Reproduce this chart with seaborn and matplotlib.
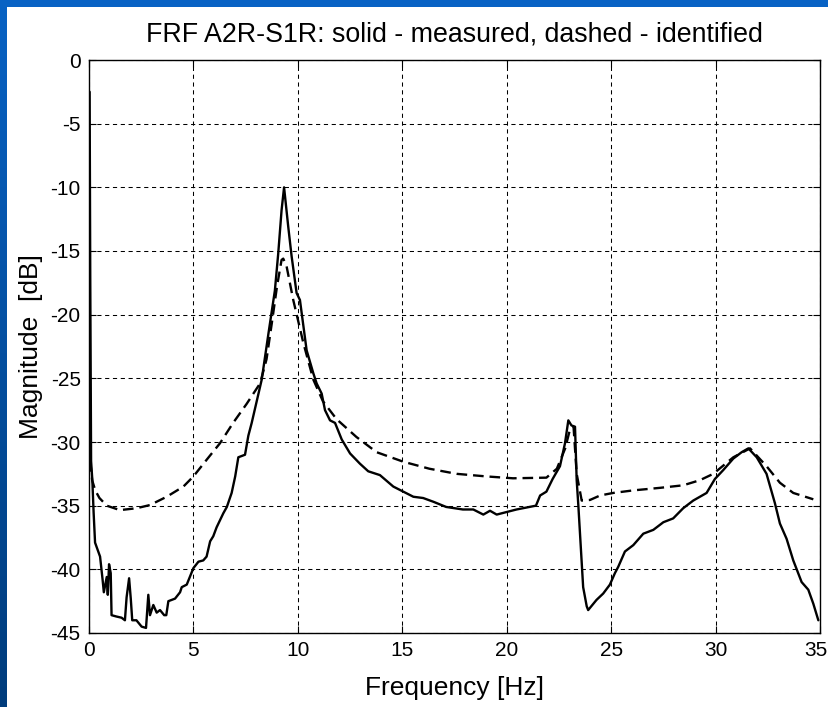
import numpy as np
import pandas as pd
import matplotlib
matplotlib.use("Agg")
import matplotlib.pyplot as plt
import matplotlib.transforms as mtransforms
import seaborn as sns

# Measured FRF magnitude (solid)
meas_freq = [0.03, 0.06, 0.10, 0.16, 0.22, 0.29, 0.40, 0.53, 0.65, 0.71, 0.85, 0.90, 0.96, 1.04,
             1.08, 1.30, 1.56, 1.72, 1.80, 1.92, 2.00, 2.07, 2.27, 2.52, 2.73, 2.84, 2.92, 3.08,
             3.24, 3.40, 3.60, 3.70, 3.80, 4.12, 4.36, 4.44, 4.68, 4.83, 5.00, 5.24, 5.47, 5.63,
             5.80, 5.95, 6.11, 6.43, 6.60, 6.83, 7.00, 7.15, 7.47, 7.63, 7.79, 8.03, 8.27, 8.59,
             8.90, 9.06, 9.22, 9.34, 9.54, 9.70, 9.94, 10.10, 10.42, 10.74, 10.90, 11.14, 11.30,
             11.54, 11.78, 12.10, 12.50, 12.97, 13.37, 13.93, 14.57, 15.05, 15.53, 16.00, 16.50,
             17.10, 17.90, 18.40, 18.88, 19.20, 19.52, 20.00, 20.47, 21.10, 21.40, 21.60, 21.90,
             22.20, 22.55, 22.79, 22.95, 23.10, 23.27, 23.35, 23.43, 23.51, 23.66, 23.83, 23.90,
             24.30, 24.62, 24.94, 25.18, 25.34, 25.66, 26.06, 26.54, 27.02, 27.50, 27.97, 28.45,
             28.93, 29.57, 29.97, 30.37, 30.85, 31.25, 31.57, 31.97, 32.44, 32.84, 33.08, 33.40,
             33.72, 34.12, 34.44, 34.68, 34.92]
meas_db = [-2.5, -17.0, -31.5, -33.0, -35.5, -37.9, -38.4, -39.0, -40.8, -41.8, -40.6, -42.0, -39.6, -40.3,
           -43.6, -43.7, -43.8, -44.0, -42.2, -40.7, -42.3, -44.0, -44.0, -44.5, -44.6, -42.0, -43.6, -42.8,
           -43.4, -43.2, -43.6, -43.6, -42.5, -42.3, -41.8, -41.4, -41.2, -40.6, -39.9, -39.4, -39.3, -39.0,
           -37.8, -37.4, -36.7, -35.6, -35.1, -34.0, -32.7, -31.2, -31.0, -29.5, -28.5, -26.8, -25.1, -21.5,
           -18.1, -15.2, -11.8, -10.0, -13.1, -15.4, -18.3, -18.85, -22.8, -24.6, -25.4, -26.2, -27.5,
           -28.3, -28.5, -29.8, -30.9, -31.7, -32.3, -32.6, -33.5, -33.9, -34.3, -34.4, -34.7,
           -35.1, -35.3, -35.3, -35.7, -35.4, -35.7, -35.5, -35.3, -35.1, -35.0, -34.2, -33.9,
           -32.9, -31.9, -30.1, -28.3, -28.7, -28.8, -33.0, -35.0, -37.2, -41.4, -42.9, -43.2,
           -42.4, -41.9, -41.2, -40.3, -39.8, -38.6, -38.1, -37.2, -36.9, -36.3, -36.0, -35.2,
           -34.6, -34.0, -32.9, -32.2, -31.3, -30.8, -30.5, -31.2, -32.5, -34.8, -36.4, -37.6,
           -39.3, -41.0, -41.6, -42.7, -44.0]

# Identified model FRF magnitude (dashed)
ident_freq = [0.06, 0.15, 0.30, 0.50, 0.85, 1.48, 2.28, 2.92, 3.72, 4.52, 5.00, 5.63, 6.27, 6.90,
              7.55, 8.19, 8.50, 8.75, 9.00, 9.22, 9.30, 9.46, 9.78, 10.26, 10.74, 11.20, 11.85,
              12.80, 13.77, 15.05, 16.30, 17.60, 19.00, 20.30, 21.90, 22.40, 22.80, 23.03, 23.20,
              23.35, 23.59, 23.99, 24.47, 25.10, 26.06, 27.34, 28.45, 29.25, 29.89, 30.85, 31.65,
              32.44, 33.08, 33.72, 34.68]
ident_db = [-31.5, -33.0, -33.8, -34.4, -35.0, -35.35, -35.2, -34.95, -34.3, -33.5, -32.7, -31.4, -30.1, -28.5,
            -27.0, -25.4, -23.5, -20.7, -17.8, -15.7, -15.6, -16.2, -18.85, -22.2, -25.1, -26.8, -28.2,
            -29.6, -30.8, -31.55, -32.1, -32.5, -32.7, -32.85, -32.8, -32.1, -30.5, -29.0, -28.8,
            -32.5, -34.6, -34.55, -34.2, -34.0, -33.8, -33.6, -33.4, -33.0, -32.5, -31.2, -30.5,
            -31.9, -33.2, -34.0, -34.5]

x_ticks = [0, 5, 10, 15, 20, 25, 30, 35]
y_ticks = [0, -5, -10, -15, -20, -25, -30, -35, -40, -45]

sns.set_theme(style="white")
plt.rcParams["font.family"] = ["Liberation Sans", "DejaVu Sans"]

fig = plt.figure(figsize=(8.29, 7.07), dpi=100, facecolor="white")

# blue frame strips along the top and left edges
grad = np.linspace(0, 1, 256).reshape(-1, 1)
strip_cmap = matplotlib.colors.LinearSegmentedColormap.from_list("strip", ["#0862c4", "#003c7c"])
sax = fig.add_axes([0, 0, 7 / 829, 1])
sax.imshow(grad, aspect="auto", cmap=strip_cmap, extent=[0, 1, 0, 1], origin="upper")
sax.axis("off")
fig.patches.append(plt.Rectangle((0, 1 - 7 / 707), 1, 7 / 707, transform=fig.transFigure,
                                 facecolor="#0862c4", edgecolor="none", zorder=0))

ax = fig.add_axes([89 / 829, 1 - 633 / 707, (820 - 89) / 829, (633 - 60) / 707])
ax.set_facecolor("white")

meas = pd.DataFrame({"Frequency": meas_freq, "Magnitude": meas_db})
ident = pd.DataFrame({"Frequency": ident_freq, "Magnitude": ident_db})

sns.lineplot(data=meas, x="Frequency", y="Magnitude", ax=ax, color="black",
             linewidth=1.7, estimator=None, sort=False, zorder=3)
sns.lineplot(data=ident, x="Frequency", y="Magnitude", ax=ax, color="black",
             linewidth=1.7, linestyle=(0, (4.5, 2.5)), estimator=None, sort=False, zorder=3)

ax.set_xlim(0, 35)
ax.set_ylim(-45, 0)
ax.set_xticks(x_ticks)
ax.set_yticks(y_ticks)
ax.set_xticklabels([str(t) for t in x_ticks])
ax.set_yticklabels([str(t) for t in y_ticks])

ax.grid(True, color="black", linestyle=(0, (4, 3.5)), linewidth=0.75)
for side in ax.spines.values():
    side.set_color("black")
    side.set_linewidth(1.0)
    side.set_visible(True)

ax.tick_params(axis="both", which="both", direction="in", length=5, width=0.8,
               top=True, right=True, bottom=True, left=True, colors="black",
               labelsize=15, pad=6)

# keep the last frequency label inside the figure edge
last = ax.get_xticklabels()[-1]
last.set_transform(last.get_transform() + mtransforms.ScaledTranslation(-4 / 100, 0, fig.dpi_scale_trans))

ax.set_xlabel("Frequency [Hz]", fontsize=19, color="black", labelpad=11)
ax.set_ylabel("Magnitude  [dB]", fontsize=19, color="black", labelpad=5)
ax.set_title("FRF A2R-S1R: solid - measured, dashed - identified",
             fontsize=19.3, color="black", pad=13)

fig.savefig("out.png", dpi=100, facecolor="white")
